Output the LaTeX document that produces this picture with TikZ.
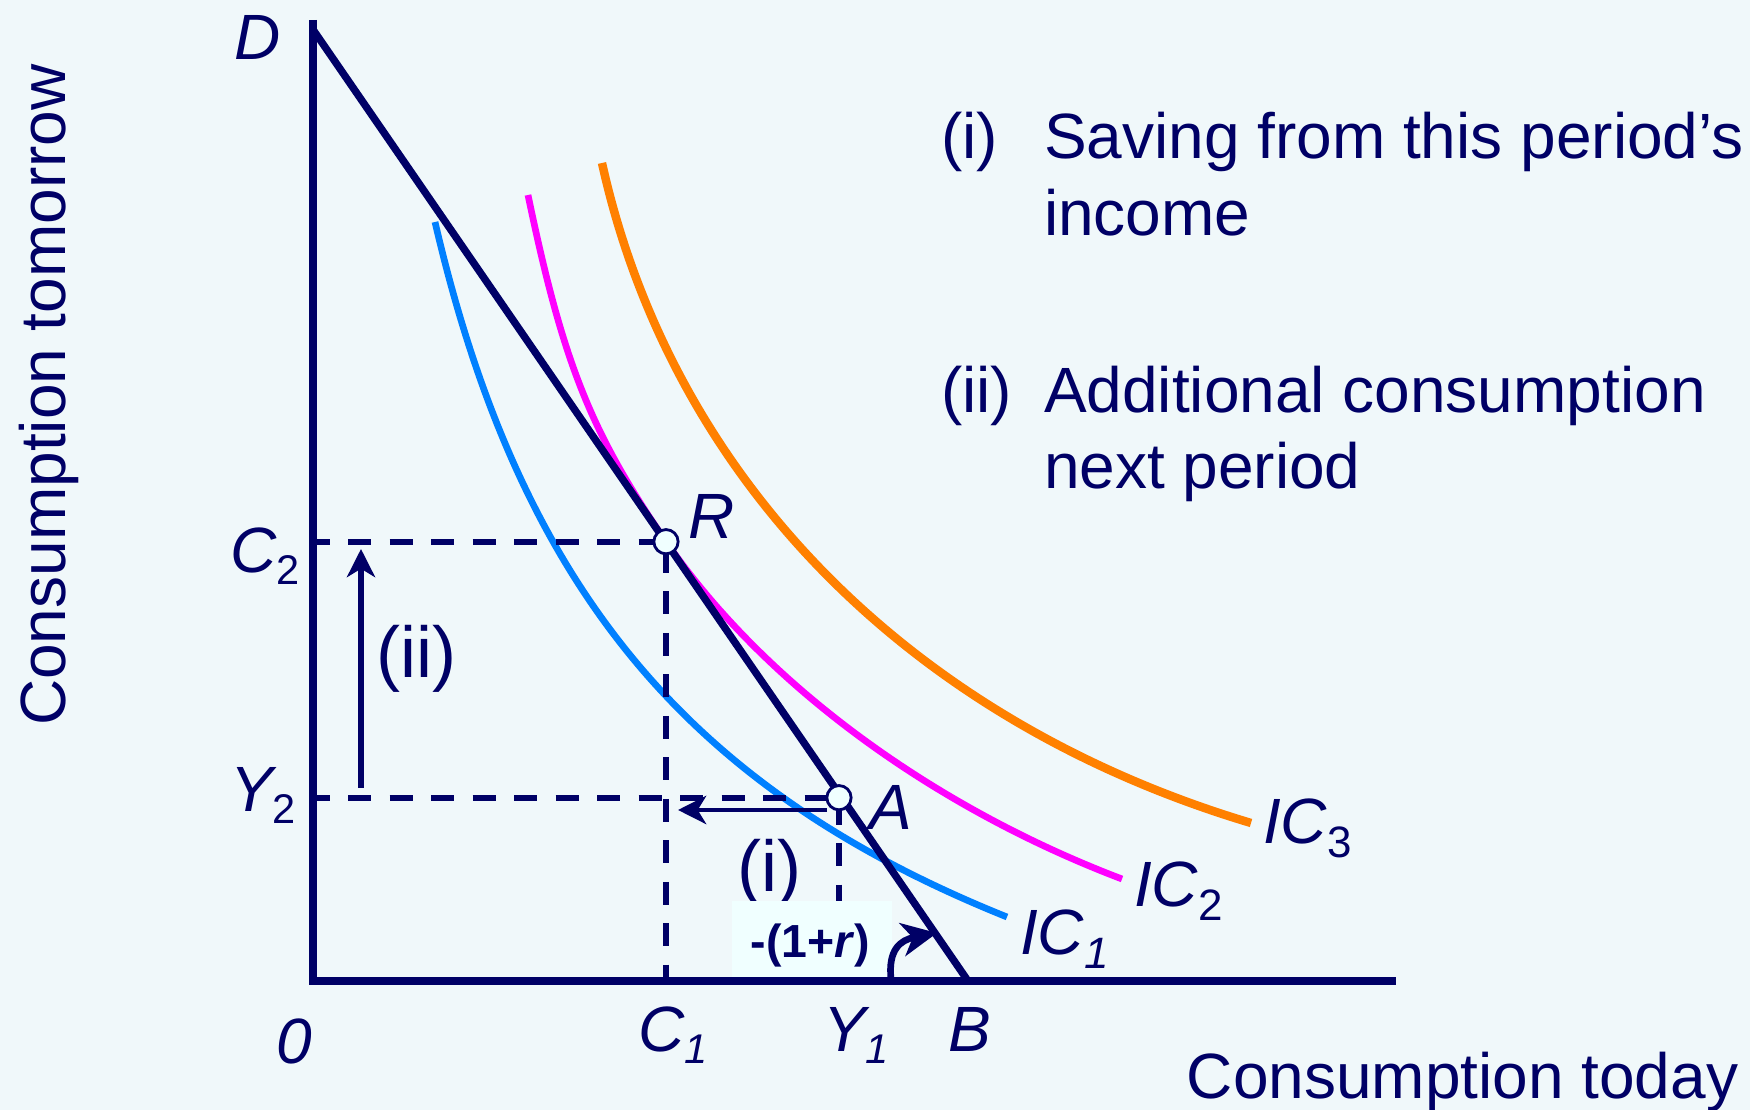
\documentclass[tikz,border=0pt]{standalone}
\usepackage{fontspec}
\setmainfont{Liberation Sans}
\usetikzlibrary{arrows.meta}
\definecolor{navy}{RGB}{0,0,102}
\definecolor{bgc}{RGB}{240,248,250}
\definecolor{boxc}{RGB}{240,255,255}
\definecolor{icone}{RGB}{0,128,255}
\definecolor{ictwo}{RGB}{255,0,255}
\definecolor{icthree}{RGB}{255,128,0}
\newcommand{\sba}[1]{\raisebox{-3.3pt}{\fontsize{11.8}{13}\selectfont #1}}
\newcommand{\sbu}[1]{\raisebox{-3.3pt}{\fontsize{11.8}{13}\selectfont\upshape #1}}
\newcommand{\sbic}[1]{\raisebox{-3.7pt}{\fontsize{12.5}{14}\selectfont #1}}
\newcommand{\sbicu}[1]{\raisebox{-3.7pt}{\fontsize{12.5}{14}\selectfont\upshape #1}}
\tikzset{
  lab/.style={inner sep=0pt, outer sep=0pt, anchor=base west, text=navy, font=\fontsize{18.2}{22}\selectfont\itshape},
  txt/.style={inner sep=0pt, outer sep=0pt, anchor=base west, text=navy, font=\fontsize{18.2}{22}\selectfont},
  axisline/.style={draw=navy, line width=2.1pt, line join=miter},
  budget/.style={draw=navy, line width=2.1pt},
  guide/.style={draw=navy, line width=1.7pt, dash pattern=on 6.6pt off 5.2pt},
  icurve/.style={line width=1.9pt, line cap=butt},
  dot/.style={circle, draw=navy, fill=boxc, line width=0.8pt, minimum size=6.9pt, inner sep=0pt},
  movearrow/.style={draw=navy, line width=1.5pt, -{Stealth[length=8pt, width=8pt, inset=2.4pt]}},
}
\begin{document}
\begin{tikzpicture}[x=0.01cm, y=-0.01cm]
\path[use as bounding box, fill=bgc] (0,0) rectangle (1750,1110);

% key coordinates
\coordinate (O) at (313,981);
\coordinate (Ytop) at (313,20);
\coordinate (Xend) at (1396,981);
\coordinate (Dp) at (314,31);
\coordinate (Bp) at (968,981);
\coordinate (C2ax) at (313,541.7);
\coordinate (Y2ax) at (313,797.7);
\coordinate (C1ax) at (666,981);
\coordinate (Y1ax) at (839,981);
\coordinate (Rc) at (666,541.7);
\coordinate (Ac) at (839,797.7);

% indifference curves
\draw[icurve, icone] (435,222) .. controls (520,587) and (686,788) .. (1007,917);
\draw[icurve, ictwo] (528,195) .. controls (563,362.8) and (590.6,432.2) .. (Rc)
                     .. controls (762.9,682.3) and (930.2,806.1) .. (1122,879);
\draw[icurve, icthree, line width=2.4pt] (602,163) .. controls (672,479) and (910,721) .. (1251,823);

% guide lines
\draw[guide, dash phase=1.8pt] (C2ax) -- (Rc);
\draw[guide, dash phase=9.5pt] (Rc) -- (C1ax);
\draw[guide, dash phase=1.8pt] (Y2ax) -- (Ac);
\draw[guide, dash phase=10.7pt] (Ac) -- (Y1ax);

% budget line
\draw[budget] (Dp) -- (Bp);

% movement arrows
\coordinate (iiS) at (361,788);
\coordinate (iiE) at (361,549);
\draw[movearrow] (iiS) -- (iiE);
\coordinate (iS) at (827,810);
\coordinate (iE) at (678,810);
\draw[movearrow, line width=1.4pt] (iS) -- (iE);

\node[txt, font=\fontsize{20.5}{24}\selectfont] (iilab) at (376,678) {(ii)};
\node[txt, font=\fontsize{20.5}{24}\selectfont] (ilab) at (737,892) {(i)};

% slope box
\fill[boxc] (732,901) rectangle (892,978);
\node[inner sep=0pt, anchor=base west, text=navy, font=\fontsize{13.2}{15}\selectfont\bfseries] (slope) at (750,958) {-(1+\textit{r})};
\coordinate (arcS) at (891,979);
\coordinate (arcE) at (937,933);
\draw[draw=navy, line width=1.9pt, -{Stealth[length=10pt, width=9.5pt, inset=3pt]}] (arcS) .. controls (888,950) and (900,940) .. (arcE);

% axes
\draw[axisline] (Ytop) -- (O) -- (Xend);

% dots
\node[dot] (R) at (Rc) {};
\node[dot] (A) at (Ac) {};

% labels
\node[lab] (Dl) at (235,60) {D};
\node[lab] (C2l) at (230,573) {C\sbu{2}};
\node[lab] (Y2l) at (230,812) {Y\sbu{2}};
\node[lab] (Zl) at (276,1064) {0};
\node[lab] (C1l) at (638,1052) {C\sba{1}};
\node[lab] (Y1l) at (823,1052) {Y\sba{1}};
\node[lab] (Bl) at (948,1052) {B};
\node[lab] (Al) at (869,830) {A};
\node[lab] (Rl) at (688,539) {R};
\node[lab] (IC1l) at (1020,955) {IC\sbic{1}};
\node[lab] (IC2l) at (1134,907) {IC\sbicu{2}};
\node[lab] (IC3l) at (1263,844) {IC\sbicu{3}};

% explanatory text
\node[txt] (t1a) at (941,159) {(i)};
\node[txt] (t1b) at (1044,159) {Saving from this period’s};
\node[txt] (t1c) at (1044,236) {income};
\node[txt] (t2a) at (941,413) {(ii)};
\node[txt] (t2b) at (1044,413) {Additional consumption};
\node[txt] (t2c) at (1044,489) {next period};

% axis titles
\node[inner sep=0pt, text=navy, font=\fontsize{18.2}{22}\selectfont, anchor=base east] (xt) at (1739,1099) {Consumption today};
\node[inner sep=0pt, text=navy, font=\fontsize{18.2}{22}\selectfont, anchor=base, rotate=90] (yt) at (65,395) {Consumption tomorrow};
\end{tikzpicture}
\end{document}
